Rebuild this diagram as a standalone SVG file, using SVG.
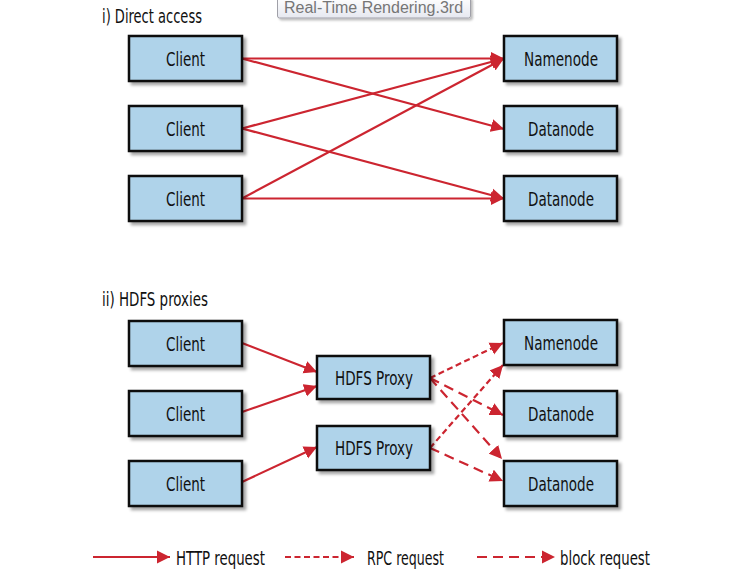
<svg xmlns="http://www.w3.org/2000/svg" width="739" height="577" viewBox="0 0 739 577">
<style>
.box{fill:#afd3ea;stroke:#111;stroke-width:2.5;filter:url(#sh)}
.lbl{font-family:"Liberation Sans Narrow","DejaVu Sans Condensed","Liberation Sans",sans-serif;font-size:20px;fill:#111;text-anchor:middle}
.ttl{font-family:"Liberation Sans Narrow","DejaVu Sans Condensed","Liberation Sans",sans-serif;font-size:20px;fill:#111}
.leg{font-family:"Liberation Sans Narrow","DejaVu Sans Condensed","Liberation Sans",sans-serif;font-size:20px;fill:#111}
.ln{fill:none;stroke:#cc2530;stroke-width:2.2;marker-end:url(#ah)}
.rpc{stroke-dasharray:6 3.5}
.blk{stroke-dasharray:10 6}
</style>
<defs>
<filter id="sh" x="-10%" y="-10%" width="130%" height="140%">
<feDropShadow dx="3" dy="3" stdDeviation="1.8" flood-color="#000" flood-opacity="0.35"/>
</filter>
<filter id="tsh" x="-5%" y="-20%" width="115%" height="160%">
<feDropShadow dx="2" dy="2" stdDeviation="1.2" flood-color="#000" flood-opacity="0.25"/>
</filter>
<linearGradient id="tg" x1="0" y1="0" x2="0" y2="1">
<stop offset="0" stop-color="#ffffff"/>
<stop offset="1" stop-color="#e6e8f0"/>
</linearGradient>
<marker id="ah" markerUnits="userSpaceOnUse" markerWidth="14" markerHeight="14" refX="13" refY="6.5" orient="auto" viewBox="0 0 14 13">
<path d="M0,0 L13,6.5 L0,13 Z" fill="#cc2530" stroke="none"/>
</marker>
</defs>

<text class="ttl" x="102" y="23" textLength="100" lengthAdjust="spacingAndGlyphs">i) Direct access</text>
<text class="ttl" x="102" y="306" textLength="106" lengthAdjust="spacingAndGlyphs">ii) HDFS proxies</text>

<g id="connectors">
<path class="ln" d="M242,58.5 L504,58.5"/>
<path class="ln" d="M242,58.5 L504,129"/>
<path class="ln" d="M242,128.5 L504,58.5"/>
<path class="ln" d="M242,128.5 L504,198.5"/>
<path class="ln" d="M242,198.5 L504,58.5"/>
<path class="ln" d="M242,198.5 L504,198.5"/>
<path class="ln" d="M242,343 L317,372"/>
<path class="ln" d="M242,412 L317,386"/>
<path class="ln" d="M242,482 L317,447"/>
<path class="ln rpc" d="M430,378 L503,343"/>
<path class="ln rpc" d="M430,448 L503,365"/>
<path class="ln blk" d="M430,378 L503,415"/>
<path class="ln blk" d="M430,378 L502,459"/>
<path class="ln blk" d="M430,448 L503,481"/>
</g>

<g id="client1"><rect class="box" x="129" y="36" width="113" height="45"/><text class="lbl" x="185.5" y="65.5" textLength="39" lengthAdjust="spacingAndGlyphs">Client</text></g>
<g id="client2"><rect class="box" x="129" y="106" width="113" height="45"/><text class="lbl" x="185.5" y="135.5" textLength="39" lengthAdjust="spacingAndGlyphs">Client</text></g>
<g id="client3"><rect class="box" x="129" y="176" width="113" height="45"/><text class="lbl" x="185.5" y="205.5" textLength="39" lengthAdjust="spacingAndGlyphs">Client</text></g>
<g id="namenode1"><rect class="box" x="504" y="36" width="113" height="45"/><text class="lbl" x="561" y="65.5" textLength="74" lengthAdjust="spacingAndGlyphs">Namenode</text></g>
<g id="datanode1"><rect class="box" x="504" y="106" width="113" height="45"/><text class="lbl" x="561" y="135.5" textLength="66" lengthAdjust="spacingAndGlyphs">Datanode</text></g>
<g id="datanode2"><rect class="box" x="504" y="176" width="113" height="45"/><text class="lbl" x="561" y="205.5" textLength="66" lengthAdjust="spacingAndGlyphs">Datanode</text></g>

<g id="client4"><rect class="box" x="129" y="321" width="113" height="45"/><text class="lbl" x="185.5" y="350.5" textLength="39" lengthAdjust="spacingAndGlyphs">Client</text></g>
<g id="client5"><rect class="box" x="129" y="391" width="113" height="45"/><text class="lbl" x="185.5" y="420.5" textLength="39" lengthAdjust="spacingAndGlyphs">Client</text></g>
<g id="client6"><rect class="box" x="129" y="461" width="113" height="45"/><text class="lbl" x="185.5" y="490.5" textLength="39" lengthAdjust="spacingAndGlyphs">Client</text></g>
<g id="proxy1"><rect class="box" x="317" y="356" width="113" height="43"/><text class="lbl" x="374" y="384.5" textLength="78" lengthAdjust="spacingAndGlyphs">HDFS Proxy</text></g>
<g id="proxy2"><rect class="box" x="317" y="426" width="113" height="44"/><text class="lbl" x="374" y="455" textLength="78" lengthAdjust="spacingAndGlyphs">HDFS Proxy</text></g>
<g id="namenode2"><rect class="box" x="504" y="320" width="113" height="45"/><text class="lbl" x="561" y="349.5" textLength="74" lengthAdjust="spacingAndGlyphs">Namenode</text></g>
<g id="datanode3"><rect class="box" x="504" y="391" width="113" height="45"/><text class="lbl" x="561" y="420.5" textLength="66" lengthAdjust="spacingAndGlyphs">Datanode</text></g>
<g id="datanode4"><rect class="box" x="504" y="461" width="113" height="45"/><text class="lbl" x="561" y="490.5" textLength="66" lengthAdjust="spacingAndGlyphs">Datanode</text></g>

<g id="legend">
<path class="ln" d="M93,557 L170,557"/>
<text class="leg" x="176" y="565" textLength="89" lengthAdjust="spacingAndGlyphs">HTTP request</text>
<path class="ln rpc" d="M285,557 L354,557"/>
<text class="leg" x="367" y="565" textLength="77" lengthAdjust="spacingAndGlyphs">RPC request</text>
<path class="ln blk" d="M477,557 L555,557"/>
<text class="leg" x="560" y="565" textLength="90" lengthAdjust="spacingAndGlyphs">block request</text>
</g>

<g id="tooltip">
<rect x="277.5" y="-3" width="193" height="21" rx="2" fill="url(#tg)" stroke="#a0a0a8" stroke-width="1" filter="url(#tsh)"/>
<text x="284" y="13" font-family="'Liberation Sans',sans-serif" font-size="16" fill="#767676">Real-Time Rendering.3rd</text>
</g>
</svg>
